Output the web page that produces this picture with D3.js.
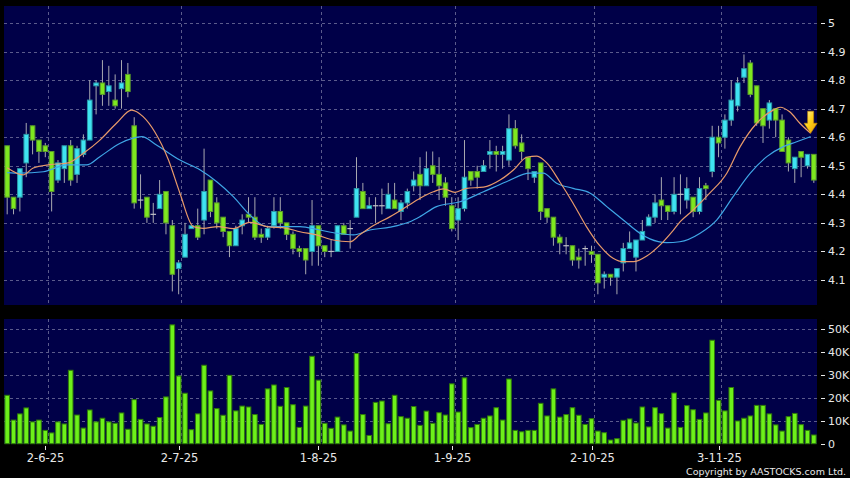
<!DOCTYPE html>
<html><head><meta charset="utf-8">
<script src="https://cdn.jsdelivr.net/npm/d3@7/dist/d3.min.js"></script>
<style>html,body{margin:0;padding:0;background:#000;}svg{display:block;}</style>
</head><body>
<svg id="chart" width="850" height="478"></svg>
<script>
// ---------- data ----------
const opens  = [4.57,4.39,4.39,4.51,4.64,4.59,4.57,4.55,4.45,4.49, 4.57,4.47,4.54,4.59,4.78,4.79,4.76,4.73,4.77,4.82,
                4.64,4.38,4.39,4.33,4.35,4.41,4.29,4.14,4.18,4.28, 4.29,4.31,4.45,4.37,4.32,4.27,4.22,4.29,4.33,4.32,
                4.26,4.25,4.29,4.34,4.30,4.26,4.21,4.21,4.20,4.29, 4.22,4.20,4.20,4.29,4.28,4.32,4.41,4.35,4.36,4.36,
                4.35,4.38,4.34,4.37,4.43,4.47,4.43,4.50,4.47,4.44, 4.36,4.31,4.35,4.48,4.48,4.48,4.54,4.55,4.54,4.52,
                4.63,4.58,4.53,4.46,4.51,4.35,4.32,4.25,4.22,4.22, 4.18,4.21,4.20,4.19,4.11,4.12,4.11,4.16,4.21,4.18,
                4.24,4.29,4.32,4.38,4.36,4.34,4.40,4.38,4.39,4.34, 4.43,4.48,4.60,4.60,4.66,4.71,4.81,4.86,4.78,4.70,
                4.66,4.70,4.66,4.59,4.49,4.55,4.50,4.54];
const highs  = [4.57,4.39,4.49,4.65,4.64,4.59,4.58,4.55,4.52,4.57, 4.59,4.57,4.61,4.80,4.80,4.87,4.85,4.82,4.87,4.86,
                4.67,4.47,4.39,4.37,4.45,4.41,4.31,4.17,4.30,4.29, 4.35,4.56,4.45,4.39,4.32,4.27,4.29,4.33,4.39,4.39,
                4.28,4.29,4.39,4.39,4.30,4.27,4.22,4.21,4.38,4.29, 4.22,4.24,4.29,4.30,4.31,4.53,4.44,4.39,4.39,4.42,
                4.44,4.44,4.38,4.42,4.48,4.53,4.55,4.55,4.53,4.46, 4.39,4.39,4.59,4.48,4.50,4.52,4.59,4.57,4.57,4.68,
                4.66,4.61,4.53,4.48,4.51,4.35,4.32,4.26,4.25,4.22, 4.21,4.22,4.22,4.19,4.13,4.12,4.14,4.23,4.27,4.24,
                4.31,4.33,4.40,4.46,4.36,4.46,4.47,4.46,4.39,4.46, 4.44,4.64,4.64,4.68,4.80,4.81,4.89,4.87,4.78,4.70,
                4.73,4.70,4.68,4.60,4.53,4.55,4.54,4.54];
const lows   = [4.33,4.33,4.34,4.46,4.54,4.51,4.53,4.34,4.44,4.44, 4.43,4.44,4.53,4.59,4.68,4.71,4.71,4.70,4.70,4.74,
                4.35,4.35,4.30,4.30,4.35,4.26,4.06,4.05,4.18,4.28, 4.24,4.26,4.32,4.28,4.25,4.18,4.22,4.26,4.30,4.24,
                4.23,4.24,4.28,4.28,4.24,4.19,4.18,4.12,4.15,4.15, 4.18,4.18,4.20,4.26,4.21,4.32,4.35,4.35,4.30,4.33,
                4.35,4.35,4.31,4.35,4.41,4.38,4.43,4.44,4.38,4.36, 4.27,4.24,4.34,4.43,4.42,4.48,4.49,4.48,4.49,4.50,
                4.56,4.52,4.45,4.44,4.31,4.30,4.22,4.19,4.19,4.15, 4.14,4.15,4.16,4.05,4.07,4.08,4.05,4.13,4.21,4.13,
                4.24,4.29,4.30,4.31,4.31,4.33,4.33,4.35,4.32,4.33, 4.38,4.46,4.53,4.56,4.64,4.69,4.79,4.74,4.64,4.58,
                4.63,4.60,4.55,4.48,4.44,4.46,4.49,4.44];
const closes = [4.39,4.35,4.49,4.61,4.59,4.55,4.55,4.41,4.51,4.57, 4.45,4.56,4.59,4.73,4.79,4.75,4.78,4.71,4.79,4.76,
                4.37,4.38,4.32,4.33,4.40,4.30,4.12,4.16,4.26,4.29, 4.25,4.41,4.34,4.30,4.27,4.22,4.28,4.31,4.32,4.25,
                4.25,4.28,4.34,4.30,4.26,4.21,4.20,4.17,4.29,4.22, 4.20,4.20,4.29,4.26,4.28,4.42,4.35,4.36,4.36,4.36,
                4.40,4.35,4.37,4.41,4.45,4.43,4.49,4.47,4.43,4.39, 4.28,4.35,4.46,4.45,4.46,4.50,4.55,4.54,4.55,4.63,
                4.57,4.55,4.49,4.48,4.34,4.32,4.25,4.23,4.22,4.17, 4.17,4.21,4.19,4.09,4.12,4.11,4.14,4.21,4.23,4.24,
                4.27,4.32,4.37,4.36,4.34,4.40,4.40,4.42,4.34,4.42, 4.42,4.60,4.58,4.66,4.73,4.79,4.84,4.75,4.65,4.64,
                4.72,4.66,4.55,4.51,4.53,4.53,4.54,4.45];
// volume in thousands of shares
const volumes = [21.1,10.3,13.0,15.6,9.5,10.3,5.8,4.7,9.5,8.6, 32.0,12.5,6.8,14.7,9.5,11.1,9.5,8.9,13.4,6.3,
                 19.2,10.6,8.6,7.6,11.4,20.4,51.8,29.5,22.0,6.1, 13.0,34.2,23.0,15.3,12.4,29.8,14.3,16.4,16.0,12.7,
                 8.4,23.9,25.6,16.3,24.5,17.0,7.1,16.4,38.1,27.7, 8.9,6.7,11.6,8.2,5.5,39.3,12.7,3.6,18.0,18.6,
                 8.7,21.1,11.8,11.1,16.2,8.0,14.2,8.9,13.5,12.5, 26.1,13.8,28.7,7.0,8.4,11.1,12.1,15.7,10.3,28.2,
                 5.8,5.2,5.8,5.8,17.6,12.1,23.9,11.6,12.7,15.7, 12.4,8.4,10.9,5.5,4.8,1.6,2.2,10.2,10.8,9.0,
                 16.0,7.3,15.7,13.1,6.8,22.1,7.1,16.6,14.8,10.6, 13.4,45.1,18.9,14.3,24.5,9.9,11.1,12.1,16.7,16.7,
                 13.0,8.2,5.5,11.8,13.2,8.3,5.8,3.8];
// short (orange) moving average, read as [trading-day position, price]
const maShortPos = [0,2.5,4.1,6.7,9.4,12,14.6,17.2,19.6,21.4,23.2,25.4,27.2,29.3,30.9,33.2,35.6,38.2,40.9,44,
                    46.1,48.7,51.3,54,55.5,57.6,60.3,62.9,65,67.1,68.7,70.5,72.3,75,77.6,79.7,81.8,83.4,85,87,
                    89.1,91.2,93.3,95.4,97,98.6,100.7,102.8,104.9,106,108,110.6,113.3,115.4,118,120.6,121.7,123.2,124.8,126.5];
const maShortVal = [4.493,4.468,4.492,4.504,4.509,4.544,4.590,4.649,4.695,4.672,4.620,4.520,4.404,4.287,4.281,4.287,4.280,4.302,4.287,4.281,
                    4.269,4.258,4.240,4.234,4.258,4.290,4.322,4.357,4.386,4.409,4.419,4.407,4.421,4.425,4.450,4.485,4.530,4.534,4.509,4.444,
                    4.369,4.287,4.220,4.176,4.164,4.164,4.184,4.223,4.275,4.305,4.345,4.404,4.474,4.567,4.649,4.695,4.705,4.689,4.649,4.614];
// long (blue) moving average
const maLongPos = [0,2,5.7,9.4,12.5,14.6,17.8,21.2,23.5,27.2,30.4,33,35.6,38.2,40.9,43.5,46.1,49.2,51.9,54.5,
                   57.1,60.3,63.4,65,67.6,71.3,75,78.6,82.3,84.4,86.5,89.1,91.8,94.4,97,99.6,101.2,103.8,105.9,109.1,
                   111.7,114.3,117,119.6,122.2,124.3,126.5];
const maLongVal = [4.476,4.474,4.479,4.503,4.503,4.532,4.579,4.602,4.573,4.520,4.485,4.444,4.392,4.328,4.287,4.287,4.287,4.275,4.264,4.258,
                   4.275,4.285,4.304,4.322,4.357,4.374,4.409,4.444,4.474,4.474,4.439,4.421,4.404,4.357,4.310,4.264,4.244,4.231,4.234,4.264,
                   4.310,4.392,4.474,4.532,4.567,4.584,4.602];
const priceTicks = [4.1,4.2,4.3,4.4,4.5,4.6,4.7,4.8,4.9,5];
const priceTickLabels = ["4.1","4.2","4.3","4.4","4.5","4.6","4.7","4.8","4.9","5"];
const volTicks = [0,10,20,30,40,50];
const volTickLabels = ["0","10K","20K","30K","40K","50K"];
const monthIdx = [6,27,49,70,92,112];
const monthLabels = ["2-6-25","2-7-25","1-8-25","1-9-25","2-10-25","3-11-25"];

// ---------- layout ----------
const W = 850, H = 478;
const L = 4, R = 817;
const pTop = 6, pBot = 305, vTop = 319, vBot = 444;
const C = {bg:"#000000", panel:"#000048", grid:"#5b5b8c", up:"#3fe3f2", upEdge:"#2a9aa8",
           down:"#7ee81f", downEdge:"#5a9a2a", wick:"#a8a8b0", vol:"#6df01a", volEdge:"#2f7a0a",
           maS:"#e89a6a", maL:"#3fa6e6", text:"#e8e8e8", doji:"#c0c0c8"};

const svg = d3.select("#chart");
svg.append("rect").attr("width",W).attr("height",H).attr("fill",C.bg);

const n = closes.length;
const x = d3.scaleBand().domain(d3.range(n)).range([L,R]).paddingInner(0.12).paddingOuter(0.06);
const bw = x.bandwidth();
const xc = d3.scaleLinear().domain([0,n-1]).range([x(0)+bw/2, x(n-1)+bw/2]);
const y = d3.scaleLinear().domain([4.1,5.0]).range([280,23]);
const yv = d3.scaleLinear().domain([0,50]).range([vBot-0.3,329]);

// panels
svg.append("rect").attr("x",L).attr("y",pTop).attr("width",R-L).attr("height",pBot-pTop).attr("fill",C.panel);
svg.append("rect").attr("x",L).attr("y",vTop).attr("width",R-L).attr("height",vBot-vTop).attr("fill",C.panel);

const grid = svg.append("g").attr("stroke",C.grid).attr("stroke-width",1).attr("stroke-dasharray","3,3").attr("shape-rendering","crispEdges");
priceTicks.forEach(t=>grid.append("line").attr("x1",L).attr("x2",R).attr("y1",Math.round(y(t))+0.5).attr("y2",Math.round(y(t))+0.5));
volTicks.filter(t=>t>0).forEach(t=>grid.append("line").attr("x1",L).attr("x2",R).attr("y1",Math.round(yv(t))+0.5).attr("y2",Math.round(yv(t))+0.5));
monthIdx.forEach(i=>{
  const gx = Math.round(x(i)+bw)+0.5;
  grid.append("line").attr("x1",gx).attr("x2",gx).attr("y1",pTop).attr("y2",pBot);
  grid.append("line").attr("x1",gx).attr("x2",gx).attr("y1",vTop).attr("y2",vBot);
});

// candles
const cg = svg.append("g");
d3.range(n).forEach(i=>{
  const o=opens[i], c=closes[i], h=highs[i], l=lows[i];
  const cx = x(i)+bw/2;
  cg.append("line").attr("x1",cx).attr("x2",cx).attr("y1",y(h)).attr("y2",y(l)).attr("stroke",C.wick).attr("stroke-width",1);
  const up = c>o, flat = Math.abs(c-o)<1e-9;
  if (flat) {
    cg.append("line").attr("x1",x(i)).attr("x2",x(i)+bw).attr("y1",y(c)).attr("y2",y(c)).attr("stroke",C.doji).attr("stroke-width",1.2);
    return;
  }
  const top = y(Math.max(o,c)), hgt = Math.max(2, Math.abs(y(o)-y(c)));
  cg.append("rect").attr("x",x(i)+0.5).attr("y",top).attr("width",bw-1).attr("height",hgt)
    .attr("fill",up?C.up:C.down).attr("stroke",up?C.upEdge:C.downEdge).attr("stroke-width",1);
});

// moving averages
const lineGen = d3.line().x(d=>xc(d[0])).y(d=>y(d[1])).curve(d3.curveMonotoneX);
svg.append("path").datum(maLongPos.map((p,k)=>[p,maLongVal[k]])).attr("d",lineGen).attr("fill","none").attr("stroke",C.maL).attr("stroke-width",1.2);
svg.append("path").datum(maShortPos.map((p,k)=>[p,maShortVal[k]])).attr("d",lineGen).attr("fill","none").attr("stroke",C.maS).attr("stroke-width",1.2);

// signal arrow at the last point of the short average
const defs = svg.append("defs");
const gr = defs.append("linearGradient").attr("id","gold").attr("x1","0").attr("y1","0").attr("x2","1").attr("y2","1");
gr.append("stop").attr("offset","0").attr("stop-color","#fff6b0");
gr.append("stop").attr("offset","0.45").attr("stop-color","#ffd21a");
gr.append("stop").attr("offset","1").attr("stop-color","#e89a00");
const tx = xc(maShortPos[maShortPos.length-1]), ty = y(maShortVal[maShortVal.length-1]);
svg.append("path").attr("d",`M${tx-3},${ty-22} L${tx+3},${ty-22} L${tx+3},${ty-10} L${tx+6.5},${ty-10} L${tx},${ty} L${tx-6.5},${ty-10} L${tx-3},${ty-10} Z`)
  .attr("fill","url(#gold)").attr("stroke","#c88a00").attr("stroke-width",0.6);

// volume bars
svg.append("g").selectAll("rect").data(volumes).join("rect")
  .attr("x",(d,i)=>x(i)+0.5).attr("width",bw-1)
  .attr("y",d=>yv(d)).attr("height",d=>yv(0)-yv(d))
  .attr("fill",C.vol).attr("stroke",C.volEdge).attr("stroke-width",1);

// axes text
const font = "'DejaVu Sans', Verdana, sans-serif";
const ax = svg.append("g").attr("font-family",font).attr("fill",C.text);
priceTicks.forEach((t,k)=>{
  const yy = Math.round(y(t))+0.5;
  ax.append("line").attr("x1",821).attr("x2",825).attr("y1",yy).attr("y2",yy).attr("stroke",C.text);
  ax.append("text").attr("x",828).attr("y",yy).attr("dy","0.36em").attr("font-size",11).text(priceTickLabels[k]);
});
volTicks.forEach((t,k)=>{
  const yy = Math.round(yv(t))+0.5;
  ax.append("line").attr("x1",821).attr("x2",825).attr("y1",yy).attr("y2",yy).attr("stroke",C.text);
  ax.append("text").attr("x",828).attr("y",yy).attr("dy","0.36em").attr("font-size",11).text(volTickLabels[k]);
});
monthIdx.forEach((i,k)=>{
  const cx = Math.round(x(i)+bw/2)+0.5;
  ax.append("line").attr("x1",cx).attr("x2",cx).attr("y1",446).attr("y2",450).attr("stroke",C.text);
  ax.append("text").attr("x",cx).attr("y",462).attr("text-anchor","middle").attr("font-size",11.5).text(monthLabels[k]);
});
ax.append("text").attr("x",846).attr("y",475).attr("text-anchor","end").attr("font-size",9.5).text("Copyright by AASTOCKS.com Ltd.");
</script>
</body></html>
